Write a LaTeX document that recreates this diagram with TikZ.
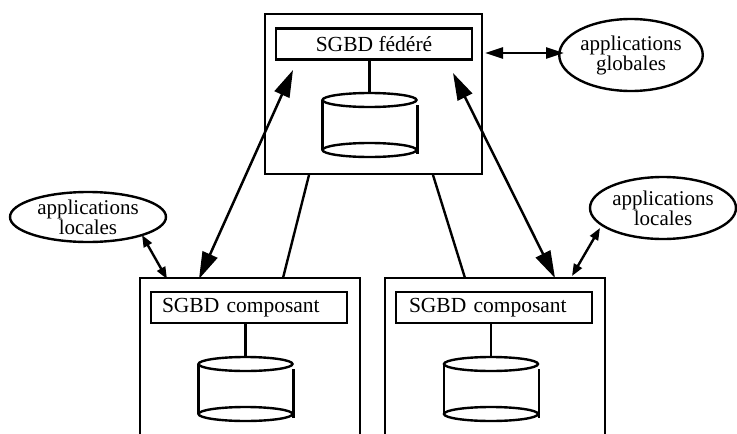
\documentclass[tikz,border=0pt]{standalone}
\usepackage{fontspec}
\setmainfont{Liberation Serif}
\usetikzlibrary{arrows.meta,shapes.geometric}

\tikzset{
  outerbox/.style={draw, line width=2.4pt, rectangle, inner sep=0pt},
  lblbox/.style={draw, line width=2.4pt, rectangle, inner sep=0pt,
    minimum width=196pt, minimum height=31pt,
    font=\fontsize{21.5}{21}\selectfont},
  appell/.style={draw, line width=2.4pt, ellipse, inner sep=0pt, align=center,
    font=\fontsize{21}{20}\selectfont},
  bigarrow/.style={line width=2.5pt,
    {Triangle[length=27pt,width=16pt]}-{Triangle[length=27pt,width=16pt]}},
  midarrow/.style={line width=2.4pt,
    {Triangle[length=18pt,width=11pt]}-{Triangle[length=18pt,width=11pt]}},
  smallarrow/.style={line width=2.4pt,
    {Triangle[length=12pt,width=9pt]}-{Triangle[length=12pt,width=9pt]}},
  plainlink/.style={line width=2.4pt},
  dbcyl/.pic={
    \draw[line width=2.4pt] (0,0) ellipse [x radius=47pt, y radius=7pt];
    \draw[line width=2.4pt] (0,50) ellipse [x radius=47pt, y radius=7pt];
    \draw[line width=2.4pt] (-47,0) -- (-47,50);
    \draw[line width=2.4pt] (48,5) -- (48,54);
  }
}

\begin{document}
\begin{tikzpicture}[x=1pt,y=-1pt]
\useasboundingbox (0,0) rectangle (737,434);
\clip (0,0) rectangle (737,434);

% federated DBMS
\node[outerbox, minimum width=217pt, minimum height=160pt] (fed) at (373.5,94) {};
\node[lblbox] (fedlbl) at (374,44) {SGBD fédéré};
\pic (feddb) at (369.5,100) {dbcyl};
\coordinate (fedcyl) at (369.5,93);
\draw[plainlink] (fedcyl |- fedlbl.south) -- (fedcyl);

% component DBMS, left
\node[outerbox, minimum width=220pt, minimum height=182pt] (compl) at (250,369) {};
\node[lblbox, text width=174pt, align=left] (compllbl) at (249,307.5) {SGBD composant};
\pic (compldb) at (245.5,364) {dbcyl};
\coordinate (complcyl) at (245.5,357);
\draw[plainlink] (complcyl |- compllbl.south) -- (complcyl);

% component DBMS, right
\node[outerbox, minimum width=220pt, minimum height=182pt] (compr) at (495,369) {};
\node[lblbox, text width=170pt, align=left] (comprlbl) at (494,307.5) {SGBD composant};
\pic (comprdb) at (491,364) {dbcyl};
\coordinate (comprcyl) at (491,357);
\draw[plainlink] (comprcyl |- comprlbl.south) -- (comprcyl);

% applications
\node[appell, minimum width=132pt, minimum height=72pt] (glob) at (631,55) {applications\\globales};
\node[appell, minimum width=156pt, minimum height=50pt] (locl) at (88,217) {applications\\locales};
\node[appell, minimum width=146pt, minimum height=62pt] (locr) at (663,208) {applications\\locales};

% arrow end points
\coordinate (fedA) at (293,70);
\coordinate (complA) at (199,279);
\coordinate (fedB) at (453,73);
\coordinate (comprB) at (555,278);
\coordinate (fedC) at (309,175);
\coordinate (complC) at (283,278);
\coordinate (fedD) at (433,175);
\coordinate (comprD) at (465,278);
\coordinate (loclA) at (142,235);
\coordinate (complB) at (167,279);
\coordinate (locrA) at (600,228);
\coordinate (comprA) at (572,276);
\coordinate (fedG) at (485,53);
\coordinate (globA) at (564,53);

% connectors
\draw[bigarrow] (fedA) -- (complA);
\draw[bigarrow] (fedB) -- (comprB);
\draw[plainlink] (fedC) -- (complC);
\draw[plainlink] (fedD) -- (comprD);
\draw[smallarrow] (loclA) -- (complB);
\draw[smallarrow] (locrA) -- (comprA);
\draw[midarrow] (fedG) -- (globA);
\end{tikzpicture}
\end{document}
